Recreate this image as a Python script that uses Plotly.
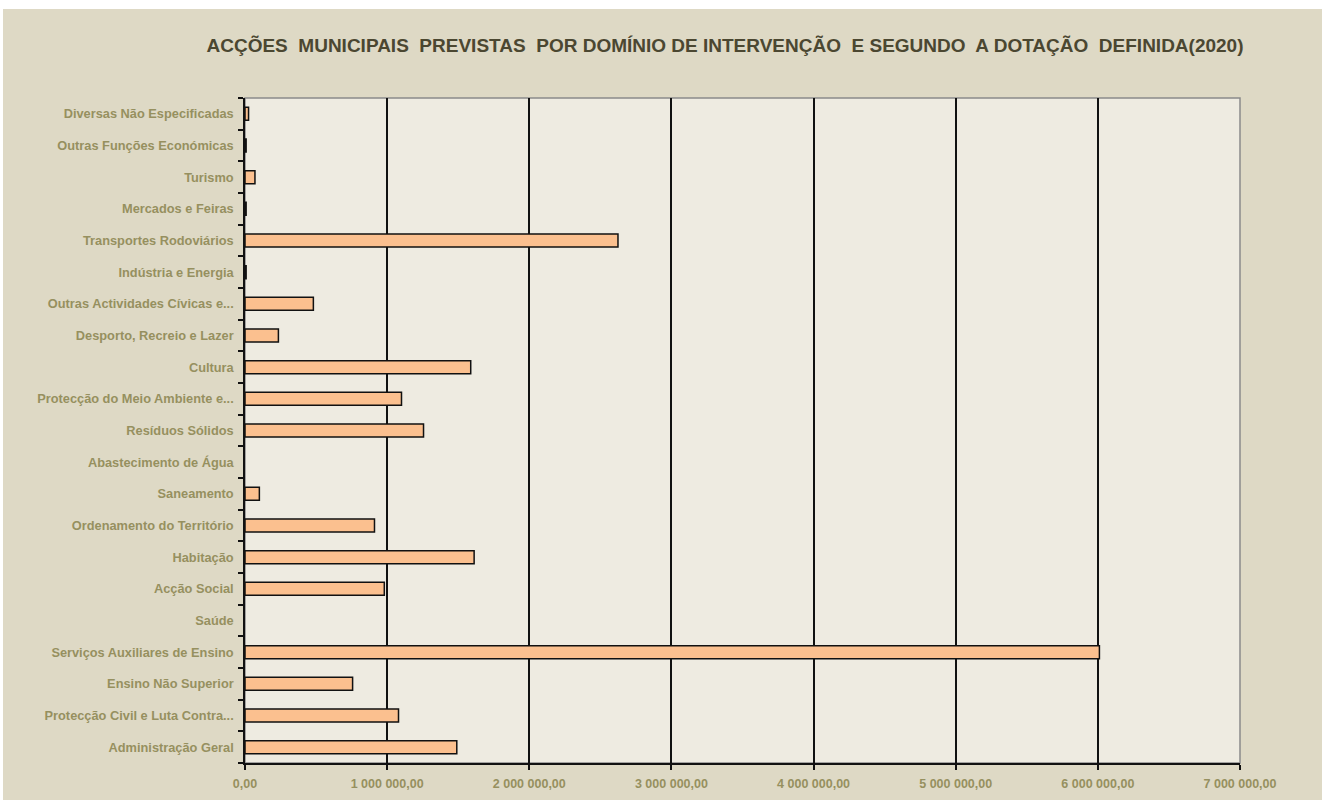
import plotly.graph_objects as go

categories = [
    "Administração Geral",
    "Protecção Civil e Luta Contra...",
    "Ensino Não Superior",
    "Serviços Auxiliares de Ensino",
    "Saúde",
    "Acção Social",
    "Habitação",
    "Ordenamento do Território",
    "Saneamento",
    "Abastecimento de Água",
    "Resíduos Sólidos",
    "Protecção do Meio Ambiente e...",
    "Cultura",
    "Desporto, Recreio e Lazer",
    "Outras Actividades Cívicas e...",
    "Indústria e Energia",
    "Transportes Rodoviários",
    "Mercados e Feiras",
    "Turismo",
    "Outras Funções Económicas",
    "Diversas Não Especificadas",
]
values = [
    1490000, 1080000, 757000, 6011000, 0, 980000, 1612000, 911000, 101000, 0,
    1256000, 1101000, 1588000, 235000, 481000, 8000, 2624000, 8000, 70000, 8000, 25000,
]
x_tickvals = [0, 1000000, 2000000, 3000000, 4000000, 5000000, 6000000, 7000000]
title_text = "ACÇÕES  MUNICIPAIS  PREVISTAS  POR DOMÍNIO DE INTERVENÇÃO  E SEGUNDO  A DOTAÇÃO  DEFINIDA(2020)"

W, H = 1325, 803
ML, MR, MT, MB = 245, 85, 98, 40
pw, ph = W - ML - MR, H - MT - MB

fig = go.Figure()
fig.add_trace(go.Bar(
    x=values, y=categories, orientation="h",
    marker=dict(color="#FBC08F",
                line=dict(color="#111111", width=[1.5 if v else 0 for v in values])),
    hoverinfo="x+y",
))

label_color = "#96905F"
fig.update_layout(
    width=W, height=H,
    margin=dict(l=ML, r=MR, t=MT, b=MB, pad=0),
    paper_bgcolor="white",
    plot_bgcolor="#EEEBE1",
    separators=", ",
    bargap=0.59,
    showlegend=False,
    title=dict(
        text=title_text,
        x=725 / W, xanchor="center", xref="container",
        y=1 - 45 / H, yanchor="middle", yref="container",
        font=dict(family="Liberation Sans", size=19,
                  color="#4B4731", weight="bold"),
    ),
    xaxis=dict(
        range=[0, 7000000], tickvals=x_tickvals, tickformat=",.2f",
        showgrid=True, gridcolor="#111111", gridwidth=1.5,
        zeroline=False,
        showline=True, linecolor="#111111", linewidth=1.5,
        ticks="outside", ticklen=5, tickcolor="#111111", tickwidth=1.5,
        ticklabelstandoff=3,
        tickfont=dict(family="Liberation Sans", size=12.5,
                      color=label_color, weight="bold"),
        fixedrange=True,
    ),
    yaxis=dict(
        type="category", categoryorder="array", categoryarray=categories,
        range=[-0.5, len(categories) - 0.5],
        showgrid=False, zeroline=False,
        showline=True, linecolor="#111111", linewidth=1.5,
        ticks="outside", tickson="boundaries", ticklen=5, tickcolor="#111111", tickwidth=1.5,
        ticklabelstandoff=7,
        tickfont=dict(family="Liberation Sans", size=12.8, color=label_color, weight="bold"),
        fixedrange=True,
    ),
    shapes=[
        dict(type="rect", xref="paper", yref="paper", layer="below",
             x0=(3 - ML) / pw, x1=(1322 - ML) / pw,
             y0=-(800 - (H - MB)) / ph, y1=((H - MB) - 9) / ph,
             fillcolor="#DED9C5", line=dict(width=0)),
        dict(type="rect", xref="paper", yref="paper", layer="below",
             x0=0, x1=1, y0=0, y1=1,
             fillcolor="#EEEBE1", line=dict(color="#8A8A8A", width=1.5)),
    ],
)

fig.write_html("out.html",
               config={"displayModeBar": False},
               post_script="document.body.style.margin='0';document.body.style.overflow='hidden';")
